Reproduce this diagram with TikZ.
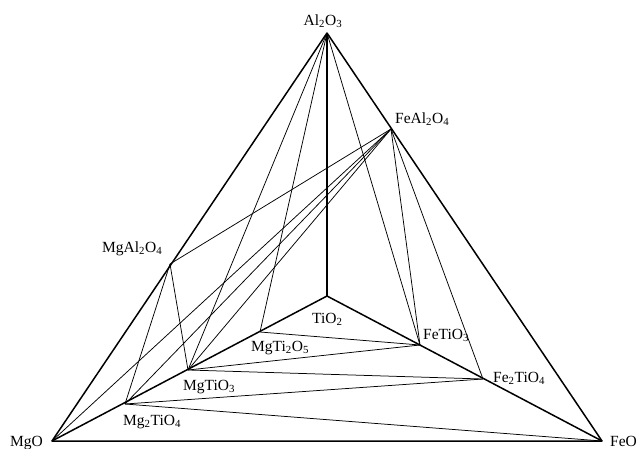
\documentclass[tikz,border=0pt]{standalone}
\usepackage{fontspec}
\setmainfont{Liberation Serif}
\begin{document}
\begin{tikzpicture}[x=1pt,y=-1pt,
  edge/.style={line width=1.5pt,line join=round},
  tie/.style={line width=0.75pt},
  lbl/.style={inner sep=0pt,font=\fontsize{15.5}{18}\selectfont}]
\useasboundingbox (0,0) rectangle (638,448);
% phase points
\coordinate (al2o3) at (327,33);
\coordinate (mgo) at (52,441);
\coordinate (feo) at (602,441);
\coordinate (tio2) at (327,296);
\coordinate (mgal2o4) at (170,264);
\coordinate (feal2o4) at (391,129);
\coordinate (mgti2o5) at (260,332);
\coordinate (mgtio3) at (188,370);
\coordinate (mg2tio4) at (125,404);
\coordinate (fetio3) at (420,345);
\coordinate (fe2tio4) at (483,379);
% tie lines
\draw[tie] (al2o3) -- (mgtio3);
\draw[tie] (al2o3) -- (mgti2o5);
\draw[tie] (al2o3) -- (fetio3);
\draw[tie] (feal2o4) -- (mgal2o4);
\draw[tie] (feal2o4) -- (mgtio3);
\draw[tie] (feal2o4) -- (mg2tio4);
\draw[tie] (feal2o4) -- (mgo);
\draw[tie] (feal2o4) -- (fetio3);
\draw[tie] (feal2o4) -- (fe2tio4);
\draw[tie] (mgal2o4) -- (mgtio3);
\draw[tie] (mgal2o4) -- (mg2tio4);
\draw[tie] (mgti2o5) -- (fetio3);
\draw[tie] (mgtio3) -- (fetio3);
\draw[tie] (mgtio3) -- (fe2tio4);
\draw[tie] (mg2tio4) -- (fe2tio4);
\draw[tie] (mg2tio4) -- (feo);
% outer triangle and joins to TiO2
\draw[edge] (al2o3) -- (mgo) -- (feo) -- cycle;
\draw[edge] (al2o3) -- (tio2);
\draw[edge] (mgo) -- (tio2) -- (feo);
% labels
\node[lbl,anchor=base] (l-al2o3) at (323,25) {Al\textsubscript{2}O\textsubscript{3}};
\node[lbl,anchor=base west] (l-feal2o4) at (395,123) {FeAl\textsubscript{2}O\textsubscript{4}};
\node[lbl,anchor=base west] (l-mgal2o4) at (102,252) {MgAl\textsubscript{2}O\textsubscript{4}};
\node[lbl,anchor=base west] (l-tio2) at (312,323) {TiO\textsubscript{2}};
\node[lbl,anchor=base west] (l-mgti2o5) at (251,351) {MgTi\textsubscript{2}O\textsubscript{5}};
\node[lbl,anchor=base west] (l-fetio3) at (423,339) {FeTiO\textsubscript{3}};
\node[lbl,anchor=base west] (l-fe2tio4) at (493,382) {Fe\textsubscript{2}TiO\textsubscript{4}};
\node[lbl,anchor=base west] (l-mgtio3) at (183,390) {MgTiO\textsubscript{3}};
\node[lbl,anchor=base west] (l-mg2tio4) at (123,425) {Mg\textsubscript{2}TiO\textsubscript{4}};
\node[lbl,anchor=base west] (l-mgo) at (10,446) {MgO};
\node[lbl,anchor=base west] (l-feo) at (610,446) {FeO};
\end{tikzpicture}
\end{document}
